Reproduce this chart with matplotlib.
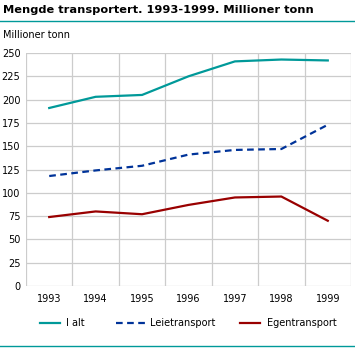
import matplotlib
matplotlib.use("Agg")
import matplotlib.pyplot as plt
from matplotlib.lines import Line2D

years = ["1993", "1994", "1995", "1996", "1997", "1998", "1999"]
i_alt = [191, 203, 205, 225, 241, 243, 242]
leietransport = [118, 124, 129, 141, 146, 147, 173]
egentransport = [74, 80, 77, 87, 95, 96, 70]

teal = "#009999"
blue = "#003399"
red = "#990000"
grid = "#cccccc"

plt.rcParams["font.family"] = "DejaVu Sans"

fig = plt.figure(figsize=(3.55, 3.49), dpi=100)
W, H = 355, 349
ax = fig.add_axes([26 / W, (H - 286) / H, (351 - 26) / W, (286 - 53) / H])

x = list(range(len(years)))
ax.plot(x, i_alt, color=teal, lw=1.6)
ax.plot(x, leietransport, color=blue, lw=1.6, dashes=(3, 2))
ax.plot(x, egentransport, color=red, lw=1.6)

ax.set_xlim(-0.5, 6.5)
ax.set_ylim(0, 250)
ax.set_yticks(range(0, 251, 25))
ax.set_xticks(x)
ax.set_xticklabels(years)
ax.set_xticks([i - 0.5 for i in range(8)], minor=True)
ax.grid(True, axis="y", color=grid, lw=0.9)
ax.grid(True, axis="x", which="minor", color=grid, lw=0.9)
ax.tick_params(axis="both", which="both", length=0, labelsize=7, colors="black")
ax.tick_params(axis="y", pad=4)
ax.tick_params(axis="x", pad=6)
for s in ax.spines.values():
    s.set_visible(False)
ax.set_axisbelow(True)

fig.text(3 / W, 1 - 10 / H, "Mengde transportert. 1993-1999. Millioner tonn",
         fontsize=8.2, fontweight="bold", va="center", ha="left")
fig.add_artist(Line2D([0, 1], [1 - 21 / H, 1 - 21 / H], color=teal, lw=1))
fig.text(3 / W, 1 - 35 / H, "Millioner tonn", fontsize=7, va="center", ha="left")
fig.add_artist(Line2D([0, 1], [1 - 346 / H, 1 - 346 / H], color=teal, lw=1))

# legend entries placed to match the reference
labels = ["I alt", "Leietransport", "Egentransport"]
styles = [dict(color=teal), dict(color=blue, dashes=(3, 2)), dict(color=red)]
lines = [(40, 60), (116, 145), (240, 260)]
text_x = [66, 150, 267]
ly = 1 - 323 / H
for (a, b), tx, lab, st in zip(lines, text_x, labels, styles):
    fig.add_artist(Line2D([a / W, b / W], [ly, ly], lw=1.6, **st))
    fig.text(tx / W, ly, lab, fontsize=7, va="center", ha="left")

fig.savefig("out.png", dpi=100)
